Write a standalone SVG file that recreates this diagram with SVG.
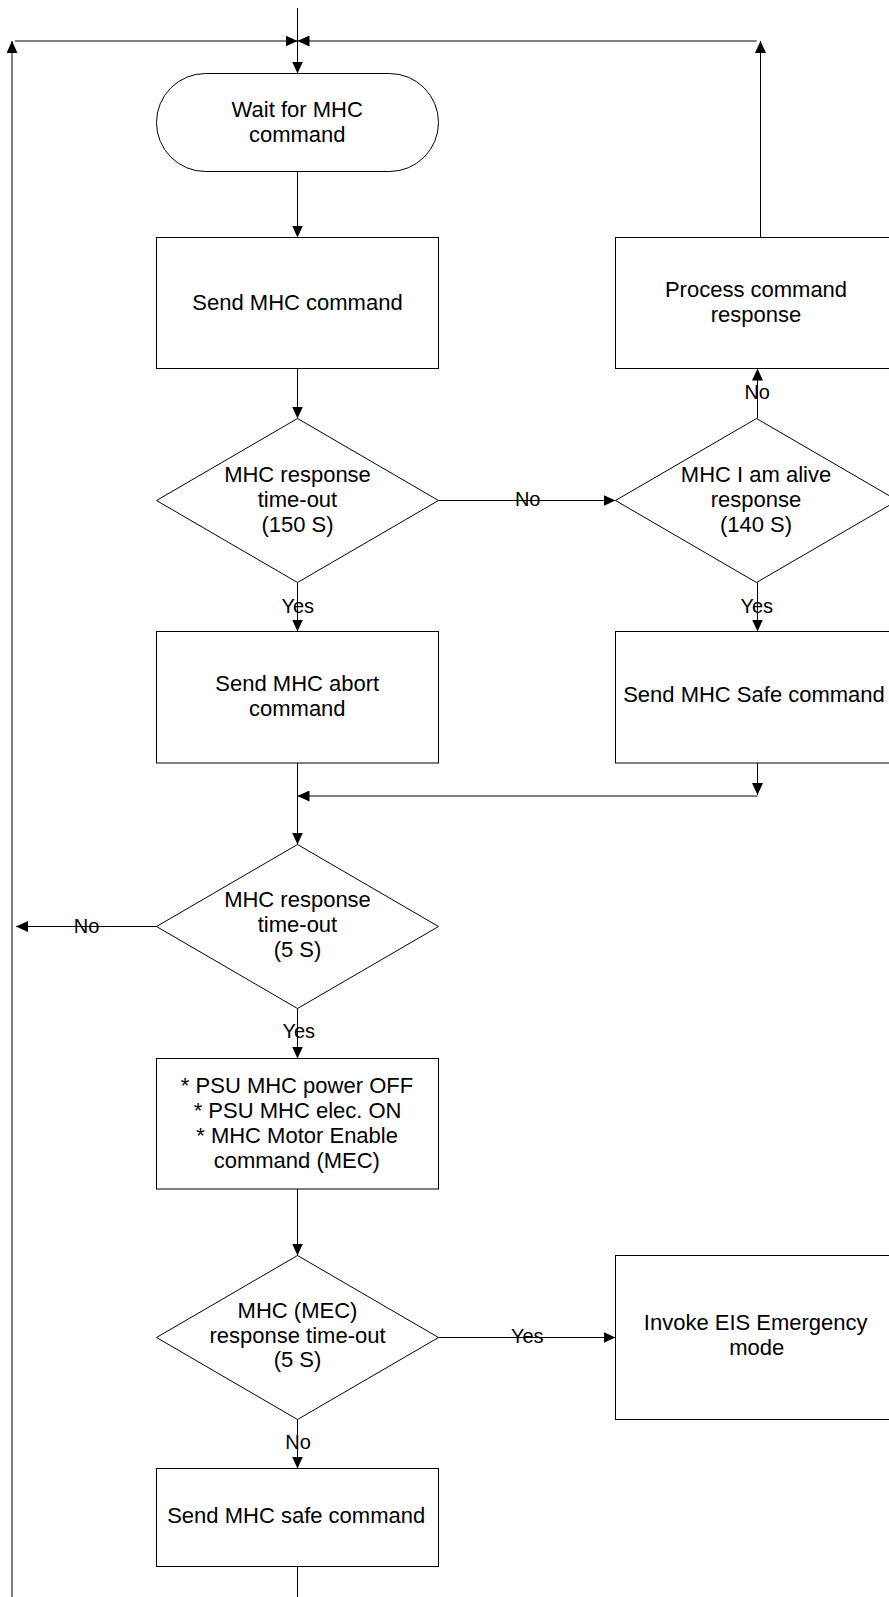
<svg xmlns="http://www.w3.org/2000/svg" width="889" height="1597" viewBox="0 0 889 1597">
<defs>
<marker id="arr" markerUnits="userSpaceOnUse" markerWidth="12" markerHeight="11" refX="12" refY="5.5" orient="auto">
<path d="M0,0 L12,5.5 L0,11 z" fill="#000"/>
</marker>
<style>
.n{fill:#fff;stroke:#000;stroke-width:1}
.t{font-family:"Liberation Sans",Arial,sans-serif;font-size:22px;fill:#000;text-anchor:middle}
.l{font-family:"Liberation Sans",Arial,sans-serif;font-size:20px;fill:#000;text-anchor:middle}
.c{fill:none;stroke:#000;stroke-width:1}
.a{marker-end:url(#arr)}
</style>
</defs>
<rect width="889" height="1597" fill="#fff"/>
<g id="connectors">
<path class="c a" d="M297.5,8 V73.5"/>
<path class="c a" d="M12,1597 V41"/>
<path class="c a" d="M15,41 H297.5"/>
<path class="c a" d="M760.5,237.5 V41"/>
<path class="c a" d="M756.7,41 H297.5"/>
<path class="c a" d="M297.5,171.5 V237.5"/>
<path class="c a" d="M297.5,368.5 V418.5"/>
<path class="c a" d="M438.5,500.5 H615.5"/>
<path class="c a" d="M757.5,418.5 V368.5"/>
<path class="c a" d="M297.5,582.5 V631.5"/>
<path class="c a" d="M757.5,582.5 V631.5"/>
<path class="c a" d="M297.5,763 V844.5"/>
<path class="c a" d="M757.5,763 V795"/>
<path class="c a" d="M757.5,796 H297.5"/>
<path class="c a" d="M156.5,926.5 H16"/>
<path class="c a" d="M297.5,1008.5 V1058.5"/>
<path class="c a" d="M297.5,1189 V1255.5"/>
<path class="c a" d="M438.5,1337.5 H615.5"/>
<path class="c a" d="M297.5,1419.5 V1468.5"/>
<path class="c" d="M297.5,1566.5 V1597"/>
<text class="l" x="527.7" y="505.7">No</text>
<text class="l" x="757.2" y="399">No</text>
<text class="l" x="297.7" y="612.7">Yes</text>
<text class="l" x="756.8" y="612.7">Yes</text>
<text class="l" x="86.5" y="932.7">No</text>
<text class="l" x="298.8" y="1038.3">Yes</text>
<text class="l" x="527.2" y="1343">Yes</text>
<text class="l" x="298" y="1449.3">No</text>
</g>
<g id="wait">
<rect class="n" x="156.5" y="73.5" width="282" height="98" rx="49" ry="49"/>
<text class="t" x="297.2" y="116.7">Wait for MHC</text>
<text class="t" x="297.2" y="141.7">command</text>
</g>
<g id="send">
<rect class="n" x="156.5" y="237.5" width="282" height="131"/>
<text class="t" x="297.5" y="310">Send MHC command</text>
</g>
<g id="process">
<rect class="n" x="615.5" y="237.5" width="282" height="131"/>
<text class="t" x="756" y="296.7">Process command</text>
<text class="t" x="756" y="321.7">response</text>
</g>
<g id="timeout150">
<polygon class="n" points="297.5,418.5 438.5,500.5 297.5,582.5 156.5,500.5"/>
<text class="t" x="297.5" y="482.3">MHC response</text>
<text class="t" x="297.5" y="506.7">time-out</text>
<text class="t" x="297.5" y="531.7">(150 S)</text>
</g>
<g id="alive">
<polygon class="n" points="756.5,418.5 897.5,500.5 756.5,582.5 615.5,500.5"/>
<text class="t" x="756" y="482.3">MHC I am alive</text>
<text class="t" x="756" y="506.7">response</text>
<text class="t" x="756" y="531.7">(140 S)</text>
</g>
<g id="abort">
<rect class="n" x="156.5" y="631.5" width="282" height="131.5"/>
<text class="t" x="297.3" y="690.7">Send MHC abort</text>
<text class="t" x="297.3" y="715.7">command</text>
</g>
<g id="safe1">
<rect class="n" x="615.5" y="631.5" width="282" height="131.5"/>
<text class="t" x="754" y="702.3">Send MHC Safe command</text>
</g>
<g id="timeout5">
<polygon class="n" points="297.5,844.5 438.5,926.5 297.5,1008.5 156.5,926.5"/>
<text class="t" x="297.5" y="907.3">MHC response</text>
<text class="t" x="297.5" y="932.3">time-out</text>
<text class="t" x="297.5" y="956.7">(5 S)</text>
</g>
<g id="psu">
<rect class="n" x="156.5" y="1058.5" width="282" height="130.5"/>
<text class="t" x="297" y="1093">* PSU MHC power OFF</text>
<text class="t" x="297.6" y="1118.3">* PSU MHC elec. ON</text>
<text class="t" x="297.1" y="1143.3">* MHC Motor Enable</text>
<text class="t" x="296.8" y="1167.7">command (MEC)</text>
</g>
<g id="mec">
<polygon class="n" points="297.5,1255.5 438.5,1337.5 297.5,1419.5 156.5,1337.5"/>
<text class="t" x="297.5" y="1318.3">MHC (MEC)</text>
<text class="t" x="297.5" y="1342.7">response time-out</text>
<text class="t" x="297.5" y="1366.7">(5 S)</text>
</g>
<g id="emergency">
<rect class="n" x="615.5" y="1255.5" width="282" height="164"/>
<text class="t" x="755.7" y="1330">Invoke EIS Emergency</text>
<text class="t" x="756.8" y="1355">mode</text>
</g>
<g id="safe2">
<rect class="n" x="156.5" y="1468.5" width="282" height="98"/>
<text class="t" x="296.2" y="1523.3">Send MHC safe command</text>
</g>
</svg>
